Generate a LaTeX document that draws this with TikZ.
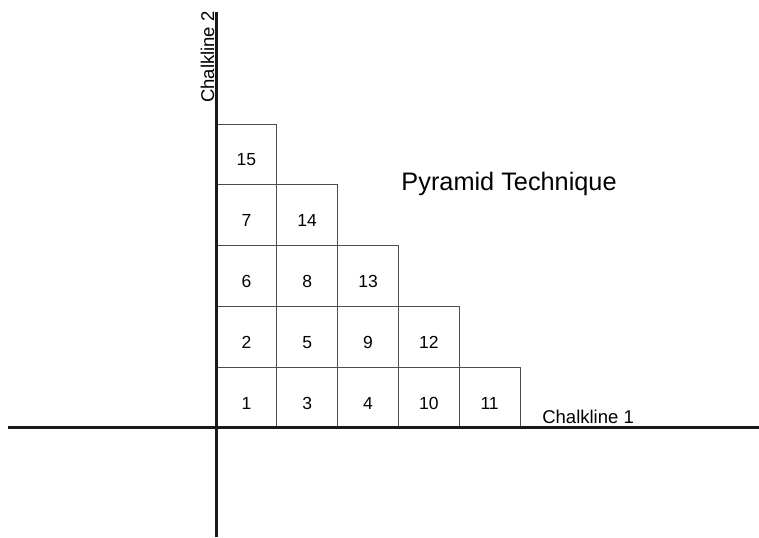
\documentclass[tikz,border=0pt]{standalone}
\usepackage{fontspec}
\setmainfont{Liberation Sans}
\begin{document}
\begin{tikzpicture}[x=60.8pt,y=60.8pt]

\tikzset{cell/.style={draw=black!70, line width=0.8pt, minimum size=60.8pt, inner sep=0pt,
  text height=23pt, text depth=0pt, font=\fontsize{17.5}{21}\selectfont}};
\tikzset{axis/.style={line width=3pt, black!90}};

\useasboundingbox (-3.553,-1.809) rectangle (8.931,7.039);

\begin{scope}

% the pyramid of numbered cells
\foreach \c/\r/\n in {0/0/1, 1/0/3, 2/0/4, 3/0/10, 4/0/11,
                      0/1/2, 1/1/5, 2/1/9, 3/1/12,
                      0/2/6, 1/2/8, 2/2/13,
                      0/3/7, 1/3/14,
                      0/4/15}
  \node[cell] (c\n) at (\c+0.5,\r+0.5) {\n};

% chalklines
\coordinate (left) at (-3.42,0);
\coordinate (right) at (8.931,0);
\coordinate (top) at (0,6.84);
\coordinate (bottom) at (0,-1.79);
\draw[axis] (left) -- (right);
\draw[axis] (bottom) -- (top);

\node[anchor=base, font=\fontsize{18.5}{22}\selectfont] (chalk1) at (6.12,0.08) {Chalkline 1};
\node[anchor=base, rotate=90, font=\fontsize{18.5}{22}\selectfont] (chalk2) at (-0.03,6.1) {Chalkline 2};
\node[anchor=base, font=\fontsize{25.3}{30}\selectfont] (title) at (4.82,3.91) {Pyramid Technique};

\end{scope}

\end{tikzpicture}
\end{document}
